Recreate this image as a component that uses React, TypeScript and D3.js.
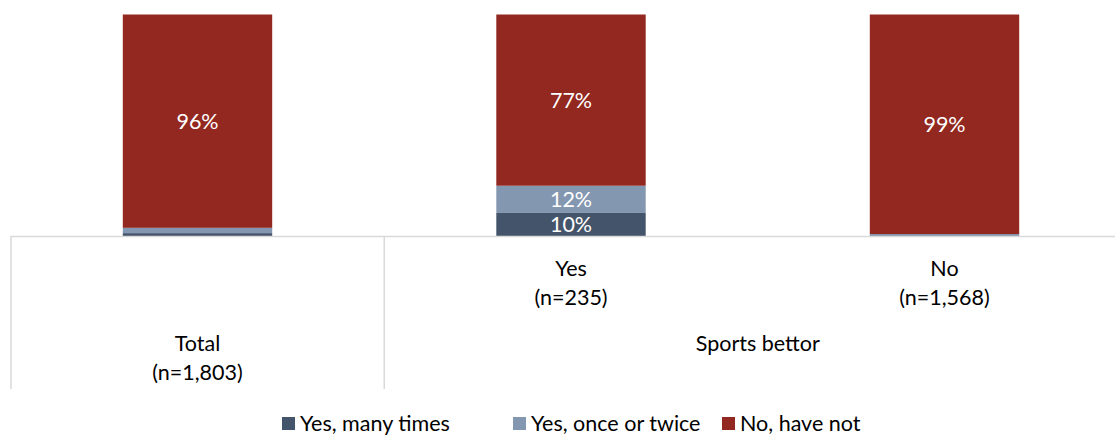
import React from "react";
import * as d3 from "d3";

const categories = ["Total", "Yes", "No"];
const categoryLabels = [["Total", "(n=1,803)"], ["Yes", "(n=235)"], ["No", "(n=1,568)"]];
const seriesNames = ["Yes, many times", "Yes, once or twice", "No, have not"];
const manyTimes = [1.3, 10.4, 0.3];
const onceTwice = [2.4, 12.3, 0.6];
const haveNot = [96.3, 77.3, 99.1];
const groupLabel = "Sports bettor";

const colors = ["#44546A", "#8497B0", "#922820"];
const W = 1115;
const H = 435;
const FONT = "Lato, 'Open Sans', sans-serif";

export default function App() {
  const x = d3.scaleBand<string>().domain(categories).range([10.75, 1131.25]).paddingInner(0.6).paddingOuter(0.3);
  const y = d3.scaleLinear().domain([0, 100]).range([236, 14.5]);
  const rows = categories.map((c, i) => ({ cat: c, s0: manyTimes[i], s1: onceTwice[i], s2: haveNot[i] }));
  const stacked = d3.stack<any>().keys(["s0", "s1", "s2"])(rows);
  const step = x.step();
  const x0 = 10.75;
  const fs = 21.5;
  const legendX = [282, 513, 722];

  return (
    <svg width={W} height={H} style={{ position: "absolute", left: 0, top: 0, background: "#fff" }} fontFamily={FONT}>
      {stacked.map((layer, li) => (
        <g key={li}>
          {layer.map((d, i) => {
            const top = y(d[1]);
            const bot = y(d[0]);
            const v = d[1] - d[0];
            return (
              <g key={i}>
                <rect x={x(categories[i])} y={top} width={x.bandwidth()} height={bot - top} fill={colors[li]} />
                {v >= 5 && (
                  <text x={(x(categories[i]) as number) + x.bandwidth() / 2} y={(top + bot) / 2} dy="0.36em" textAnchor="middle" fill="#fff" fontSize={fs}>
                    {Math.round(v)}%
                  </text>
                )}
              </g>
            );
          })}
        </g>
      ))}
      {/* axis lines */}
      <line x1={x0} x2={W} y1={236.5} y2={236.5} stroke="#d9d9d9" strokeWidth={1.5} />
      <line x1={11} x2={11} y1={236} y2={389} stroke="#d9d9d9" strokeWidth={1.5} />
      <line x1={x0 + step} x2={x0 + step} y1={236} y2={389} stroke="#d9d9d9" strokeWidth={1.5} />
      {/* category labels */}
      {categories.map((c, i) => {
        const cx = (x(c) as number) + x.bandwidth() / 2;
        const by = i === 0 ? 351 : 276;
        return (
          <text key={c} x={cx} textAnchor="middle" fontSize={fs} fill="#000">
            <tspan x={cx} y={by}>{categoryLabels[i][0]}</tspan>
            <tspan x={cx} y={by + 29}>{categoryLabels[i][1]}</tspan>
          </text>
        );
      })}
      <text
        x={((x("Yes") as number) + (x("No") as number) + x.bandwidth()) / 2}
        y={351}
        textAnchor="middle"
        fontSize={fs}
        fill="#000"
      >
        {groupLabel}
      </text>
      {/* legend */}
      {seriesNames.map((n, i) => (
        <g key={n}>
          <rect x={legendX[i]} y={417} width={13} height={13} fill={colors[i]} />
          <text x={legendX[i] + 18} y={431} fontSize={fs} fill="#000">
            {n}
          </text>
        </g>
      ))}
    </svg>
  );
}
